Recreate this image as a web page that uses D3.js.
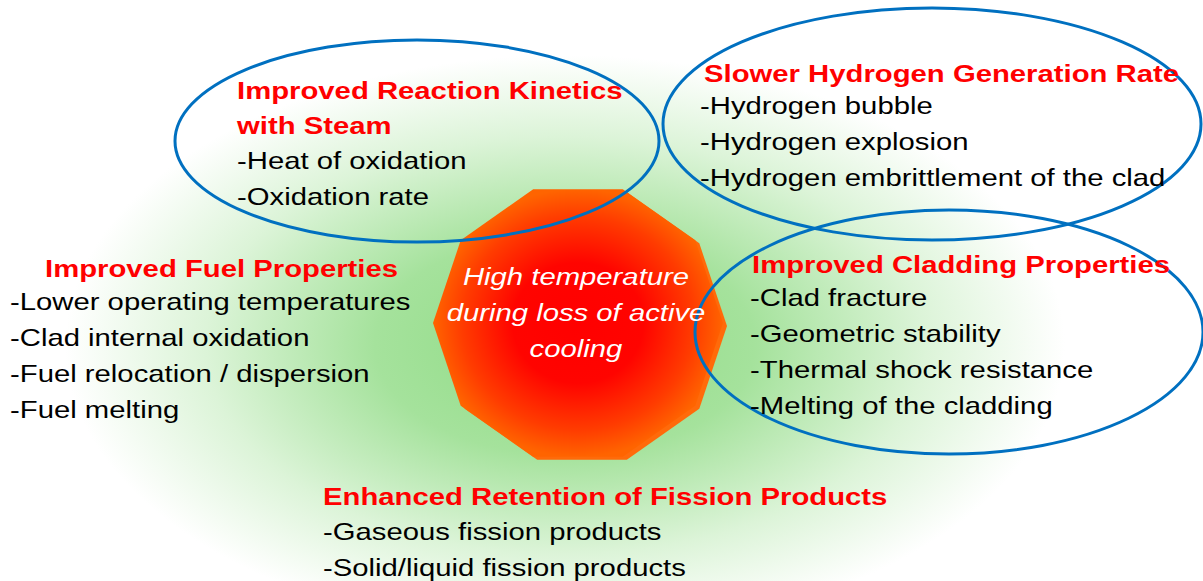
<!DOCTYPE html>
<html>
<head>
<script src="https://cdnjs.cloudflare.com/ajax/libs/d3/7.8.5/d3.min.js"></script>
<style>
  html, body { margin: 0; padding: 0; background: #fff; }
  body { font-family: "Liberation Sans", Arial, sans-serif; }
</style>
</head>
<body>
<svg id="chart" width="1203" height="581"></svg>
<script>
// Diagram content
var headings = [
  ["Improved Reaction Kinetics", "with Steam"],
  ["Slower Hydrogen Generation Rate"],
  ["Improved Fuel Properties"],
  ["Improved Cladding Properties"],
  ["Enhanced Retention of Fission Products"]
];
var bullets = [
  ["-Heat of oxidation", "-Oxidation rate"],
  ["-Hydrogen bubble", "-Hydrogen explosion", "-Hydrogen embrittlement of the clad"],
  ["-Lower operating temperatures", "-Clad internal oxidation", "-Fuel relocation / dispersion", "-Fuel melting"],
  ["-Clad fracture", "-Geometric stability", "-Thermal shock resistance", "-Melting of the cladding"],
  ["-Gaseous fission products", "-Solid/liquid fission products"]
];
var centerText = ["High temperature", "during loss of active", "cooling"];

// layout (positions kept apart from the content)
var headPos = [[237, 99], [704, 82], [45, 277], [752, 273], [323, 505]];
var bulletPos = [[237, 169], [700, 114], [10, 310], [750, 306], [323, 540]];
var headStep = 35, bulletStep = 36;
var stretch = 1.22; // slide text is drawn a little wide
var ellipses = [
  {cx: 417, cy: 141, rx: 242, ry: 101},
  {cx: 932, cy: 124, rx: 269, ry: 116},
  {cx: 949, cy: 332, rx: 254, ry: 122}
];

var svg = d3.select("#chart");
var defs = svg.append("defs");

// green glow background
var glow = defs.append("radialGradient").attr("id", "glow")
  .attr("gradientUnits", "userSpaceOnUse")
  .attr("cx", 565).attr("cy", 345).attr("r", 500)
  .attr("gradientTransform", "translate(565,345) scale(1,0.58) translate(-565,-345)");
glow.append("stop").attr("offset", "0%").attr("stop-color", "#8edb84");
glow.append("stop").attr("offset", "38%").attr("stop-color", "#a5e29c");
glow.append("stop").attr("offset", "72%").attr("stop-color", "#dcf4d8");
glow.append("stop").attr("offset", "100%").attr("stop-color", "#ffffff");

svg.append("rect").attr("width", 1203).attr("height", 581).attr("fill", "#fff");
svg.append("rect").attr("width", 1203).attr("height", 581).attr("fill", "url(#glow)");

// hot decagon
var hot = defs.append("radialGradient").attr("id", "hot")
  .attr("cx", "50%").attr("cy", "50%").attr("r", "50%");
hot.append("stop").attr("offset", "0%").attr("stop-color", "#ff0000");
hot.append("stop").attr("offset", "45%").attr("stop-color", "#ff0400");
hot.append("stop").attr("offset", "80%").attr("stop-color", "#ff3c00");
hot.append("stop").attr("offset", "100%").attr("stop-color", "#ff6400");

var cx = 578, cy = 323, R = 145;
var angles = d3.range(10).map(function(k) { return k * Math.PI / 5; });
var line = d3.line().curve(d3.curveLinearClosed);
function decagon(dx, dy) {
  return line(angles.map(function(a) {
    return [cx + dx + R * Math.cos(a), cy + dy - R * 0.97 * Math.sin(a)];
  }));
}
svg.append("path").attr("d", decagon(4, 3)).attr("fill", "#ff6a0a");
svg.append("path").attr("d", decagon(0, 0)).attr("fill", "url(#hot)");

// ellipses
svg.selectAll("ellipse.ring").data(ellipses).enter().append("ellipse")
  .attr("class", "ring")
  .attr("cx", function(d) { return d.cx; })
  .attr("cy", function(d) { return d.cy; })
  .attr("rx", function(d) { return d.rx; })
  .attr("ry", function(d) { return d.ry; })
  .attr("fill", "none")
  .attr("stroke", "#0070c0")
  .attr("stroke-width", 3);

function put(x, y) {
  return "translate(" + x + "," + y + ") scale(" + stretch + ",1)";
}

// text blocks
headings.forEach(function(lines, i) {
  lines.forEach(function(t, j) {
    svg.append("text")
      .attr("transform", put(headPos[i][0], headPos[i][1] + j * headStep))
      .attr("font-size", 24)
      .attr("font-weight", "bold")
      .attr("fill", "#ff0000")
      .text(t);
  });
  bullets[i].forEach(function(t, j) {
    svg.append("text")
      .attr("transform", put(bulletPos[i][0], bulletPos[i][1] + j * bulletStep))
      .attr("font-size", 24)
      .attr("fill", "#000")
      .text(t);
  });
});

centerText.forEach(function(t, j) {
  svg.append("text")
    .attr("transform", put(576, 285 + j * 36))
    .attr("text-anchor", "middle")
    .attr("font-size", 24)
    .attr("font-style", "italic")
    .attr("fill", "#fff")
    .text(t);
});
</script>
</body>
</html>
